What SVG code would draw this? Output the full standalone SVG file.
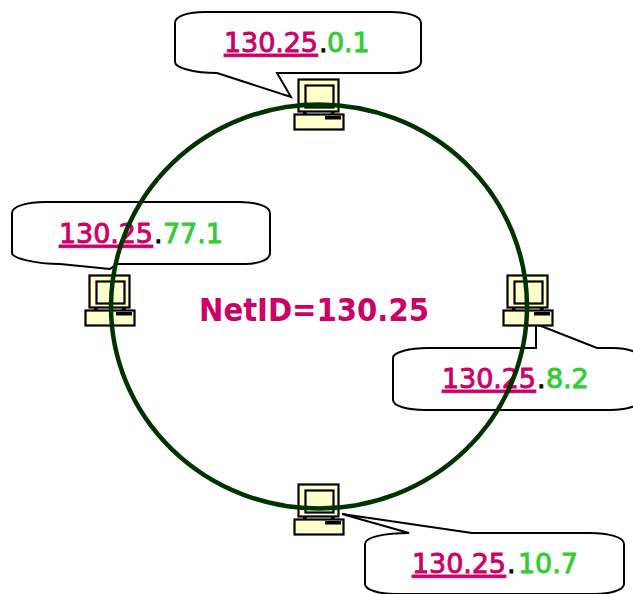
<svg xmlns="http://www.w3.org/2000/svg" xmlns:xlink="http://www.w3.org/1999/xlink" width="633" height="594" viewBox="0 0 633 594">
<style>
.callout{fill:#fff;stroke:#000;stroke-width:2;stroke-linejoin:miter}
.lbl{font-family:"DejaVu Sans",sans-serif;font-size:27px;letter-spacing:-.1px}
.net{fill:#cc0066;stroke:#cc0066;stroke-width:.9;text-decoration:underline;text-decoration-thickness:2.5px;text-underline-offset:4px}
.dot{fill:#000;stroke:#000;stroke-width:.9}
.host{fill:#33cc33;stroke:#33cc33;stroke-width:.9}
.title{font-family:"DejaVu Sans",sans-serif;font-weight:bold;font-size:32px;fill:#cc0066}
.pc{fill:#ffffcc;stroke:#000;stroke-width:2.2}
</style>
<defs>
<g id="pc">
<rect class="pc" x="10" y="32" width="1.500" height="3.500"/>
<rect class="pc" x="38" y="32" width="1.500" height="3.500"/>
<rect class="pc" x="4.500" y="0.500" width="40" height="32"/>
<rect class="pc" x="11.500" y="6.500" width="28" height="22"/>
<rect class="pc" x="0.500" y="35.500" width="49" height="15"/>
<rect x="31" y="37" width="16" height="3.500" fill="#000"/>
</g>
</defs>
<g id="callout-top">
<path class="callout" d="M217 73L291 97L277 73H395C410 73 421 68 421 62V23C421 16 408 12 390 12H205C188 12 175 16 175 23V62C175 68 195 73 217 73Z"/>
<text class="lbl" y="52"><tspan class="net" x="224">130.25</tspan><tspan class="dot" x="319">.</tspan><tspan class="host" x="327">0.1</tspan></text>
</g>
<g id="callout-left">
<path class="callout" d="M60 264L110 269L117 264H245C258 264 270 260 270 253V213C270 206 255 202 240 202H45C28 202 12 206 12 213V253C12 258 35 264 60 264Z"/>
<text class="lbl" y="243"><tspan class="net" x="59">130.25</tspan><tspan class="dot" x="154">.</tspan><tspan class="host" x="163">77.1</tspan></text>
</g>
<g id="callout-right">
<path class="callout" d="M536 348V324L597 348H612C628 348 641 352 641 360V400C641 406 625 410 610 410H425C408 410 393 406 393 400V358C393 352 410 348 428 348Z"/>
<text class="lbl" y="388"><tspan class="net" x="442">130.25</tspan><tspan class="dot" x="537">.</tspan><tspan class="host" x="546">8.2</tspan></text>
</g>
<g id="callout-bottom">
<path class="callout" d="M409 533L342 514L472 533H590C608 533 624 537 624 544V584C624 590 610 594 595 594H395C380 594 365 590 365 584V544C365 537 385 533 409 533Z"/>
<text class="lbl" y="573"><tspan class="net" x="412">130.25</tspan><tspan class="dot" x="507">.</tspan><tspan class="host" x="518">10.7</tspan></text>
</g>
<g id="host-top"><use href="#pc" xlink:href="#pc" x="294" y="79"/></g>
<g id="host-left"><use href="#pc" xlink:href="#pc" x="85" y="275"/></g>
<g id="host-right"><use href="#pc" xlink:href="#pc" x="503" y="275"/></g>
<g id="host-bottom"><use href="#pc" xlink:href="#pc" x="294" y="484"/></g>
<g id="connectors">
<ellipse cx="319" cy="306.500" rx="208" ry="202" fill="none" stroke="#003300" stroke-width="4.500"/>
</g>
<g id="network-label">
<text class="title" x="199" y="321" textLength="230" lengthAdjust="spacingAndGlyphs">NetID=130.25</text>
</g>
</svg>
